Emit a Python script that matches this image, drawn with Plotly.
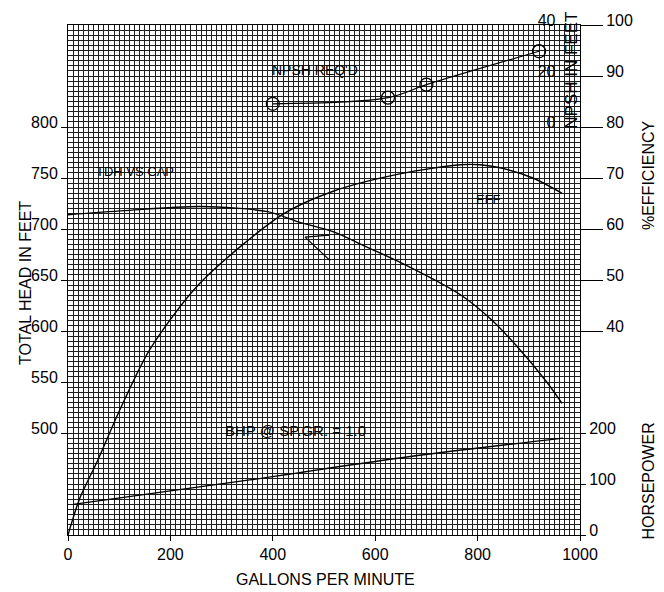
import plotly.graph_objects as go

# ---- data ----
gpm_ticks = [0, 200, 400, 600, 800, 1000]
tdh_ticks = [500, 550, 600, 650, 700, 750, 800]
eff_ticks = [40, 50, 60, 70, 80, 90, 100]
hp_ticks = [0, 100, 200]
npsh_ticks = [0, 20, 40]

tdh_gpm = [0, 110, 260, 390, 450, 520, 585, 650, 765, 825, 875, 935, 965]
tdh_ft = [714, 718, 722, 717, 707, 697, 682, 667, 636, 612, 586, 550, 529]

eff_gpm = [0, 23, 57, 102, 160, 258, 420, 518, 648, 766, 805, 844, 908, 965]
eff_pct = [0, 7.2, 14.4, 24.7, 36.4, 49.4, 62.9, 67.4, 70.8, 72.6, 72.6, 72.0, 70.0, 67.0]

bhp_gpm = [10, 355, 648, 967]
bhp_hp = [60, 108, 151, 190]

npsh_gpm = [400, 625, 700, 920]
npsh_ft = [9.1, 11.5, 16.6, 29.7]

# small angle mark drawn near the head curve
mark_gpm = [510, 463, 512]
mark_tdh = [694, 692, 669]

FONT = "Liberation Sans, Arial, Helvetica, sans-serif"
GRID = "#1e1e1e"
LW = 1.4

fig = go.Figure()
fig.add_trace(go.Scatter(x=tdh_gpm, y=tdh_ft, yaxis="y2", mode="lines",
                         line=dict(color="black", width=LW, shape="spline", smoothing=0.8),
                         hoverinfo="skip"))
fig.add_trace(go.Scatter(x=eff_gpm, y=eff_pct, yaxis="y", mode="lines",
                         line=dict(color="black", width=LW, shape="spline", smoothing=0.8),
                         hoverinfo="skip"))
fig.add_trace(go.Scatter(x=bhp_gpm, y=bhp_hp, yaxis="y3", mode="lines",
                         line=dict(color="black", width=LW, shape="spline"), hoverinfo="skip"))
fig.add_trace(go.Scatter(x=npsh_gpm, y=npsh_ft, yaxis="y4", mode="lines+markers",
                         line=dict(color="black", width=1.2, shape="spline"),
                         marker=dict(symbol="circle-open", size=13, color="black",
                                     line=dict(width=1.3)), hoverinfo="skip"))
fig.add_trace(go.Scatter(x=mark_gpm, y=mark_tdh, yaxis="y2", mode="lines",
                         line=dict(color="black", width=1.2), hoverinfo="skip"))

tickfont = dict(family=FONT, size=16, color="black")
SHIFT = -5

fig.update_layout(
    width=664, height=592,
    margin=dict(l=68, r=84, t=22, b=57),
    paper_bgcolor="white", plot_bgcolor="white",
    showlegend=False,
    font=dict(family=FONT, color="black"),
    xaxis=dict(range=[0, 1000], tickvals=gpm_ticks, ticks="outside", ticklen=5,
               tickcolor="black", tickfont=tickfont, showgrid=True, gridcolor=GRID,
               gridwidth=1, zeroline=False, showline=True, linecolor="black",
               linewidth=1, mirror=True,
               minor=dict(tickmode="linear", tick0=0, dtick=10, showgrid=True,
                          gridcolor=GRID, gridwidth=1, ticks="")),
    yaxis=dict(range=[0, 100], side="right", tickvals=eff_ticks, ticks="outside",
               ticklen=22, tickcolor="black", tickfont=tickfont, ticklabelshift=SHIFT,
               showgrid=True, gridcolor=GRID, gridwidth=1, zeroline=False,
               showline=True, linecolor="black", linewidth=1, mirror=True,
               minor=dict(tickmode="linear", tick0=0, dtick=1, showgrid=True,
                          gridcolor=GRID, gridwidth=1, ticks="")),
    yaxis2=dict(range=[400, 900], overlaying="y", side="left", tickvals=tdh_ticks,
                ticks="outside", ticklen=6, tickcolor="black", tickfont=tickfont,
                ticklabelshift=SHIFT, showgrid=False, zeroline=False, showline=False),
    yaxis3=dict(range=[0, 1000], overlaying="y", side="right", tickvals=hp_ticks,
                ticks="outside", ticklen=5, tickcolor="black", tickfont=tickfont,
                ticklabelshift=SHIFT, showgrid=False, zeroline=False, showline=False),
    yaxis4=dict(range=[-160, 40], overlaying="y", side="left", anchor="free",
                position=0.952, tickvals=npsh_ticks, ticks="", tickfont=tickfont,
                ticklabelshift=SHIFT, showgrid=False, zeroline=False, showline=False),
)

ann = [
    dict(text="TOTAL HEAD IN FEET", x=-0.084, y=0.494, xref="paper", yref="paper",
         textangle=-90, font=dict(size=16)),
    dict(text="%EFFICIENCY", x=1.135, y=0.706, xref="paper", yref="paper",
         textangle=-90, font=dict(size=16)),
    dict(text="HORSEPOWER", x=1.133, y=0.105, xref="paper", yref="paper",
         textangle=-90, font=dict(size=16)),
    dict(text="GALLONS PER MINUTE", x=0.502, y=-0.0875, xref="paper", yref="paper",
         font=dict(size=16)),
    dict(text="NPSH IN FEET", x=0.984, y=0.912, xref="paper", yref="paper",
         textangle=-90, font=dict(size=17)),
    dict(text="TDH VS CAP", x=131, y=756, xref="x", yref="y2", font=dict(size=13)),
    dict(text="NPSH REQ'D", x=483, y=22.4, xref="x", yref="y4", font=dict(size=14)),
    dict(text="EFF", x=822, y=65.8, xref="x", yref="y", font=dict(size=13)),
    dict(text="BHP @ SP.GR. = 1.0", x=444, y=205, xref="x", yref="y3", font=dict(size=15)),
]
for a in ann:
    a.update(showarrow=False, xanchor="center", yanchor="middle")
    a["font"].update(family=FONT, color="black")
fig.update_layout(annotations=ann)

fig.write_html("out.html")
